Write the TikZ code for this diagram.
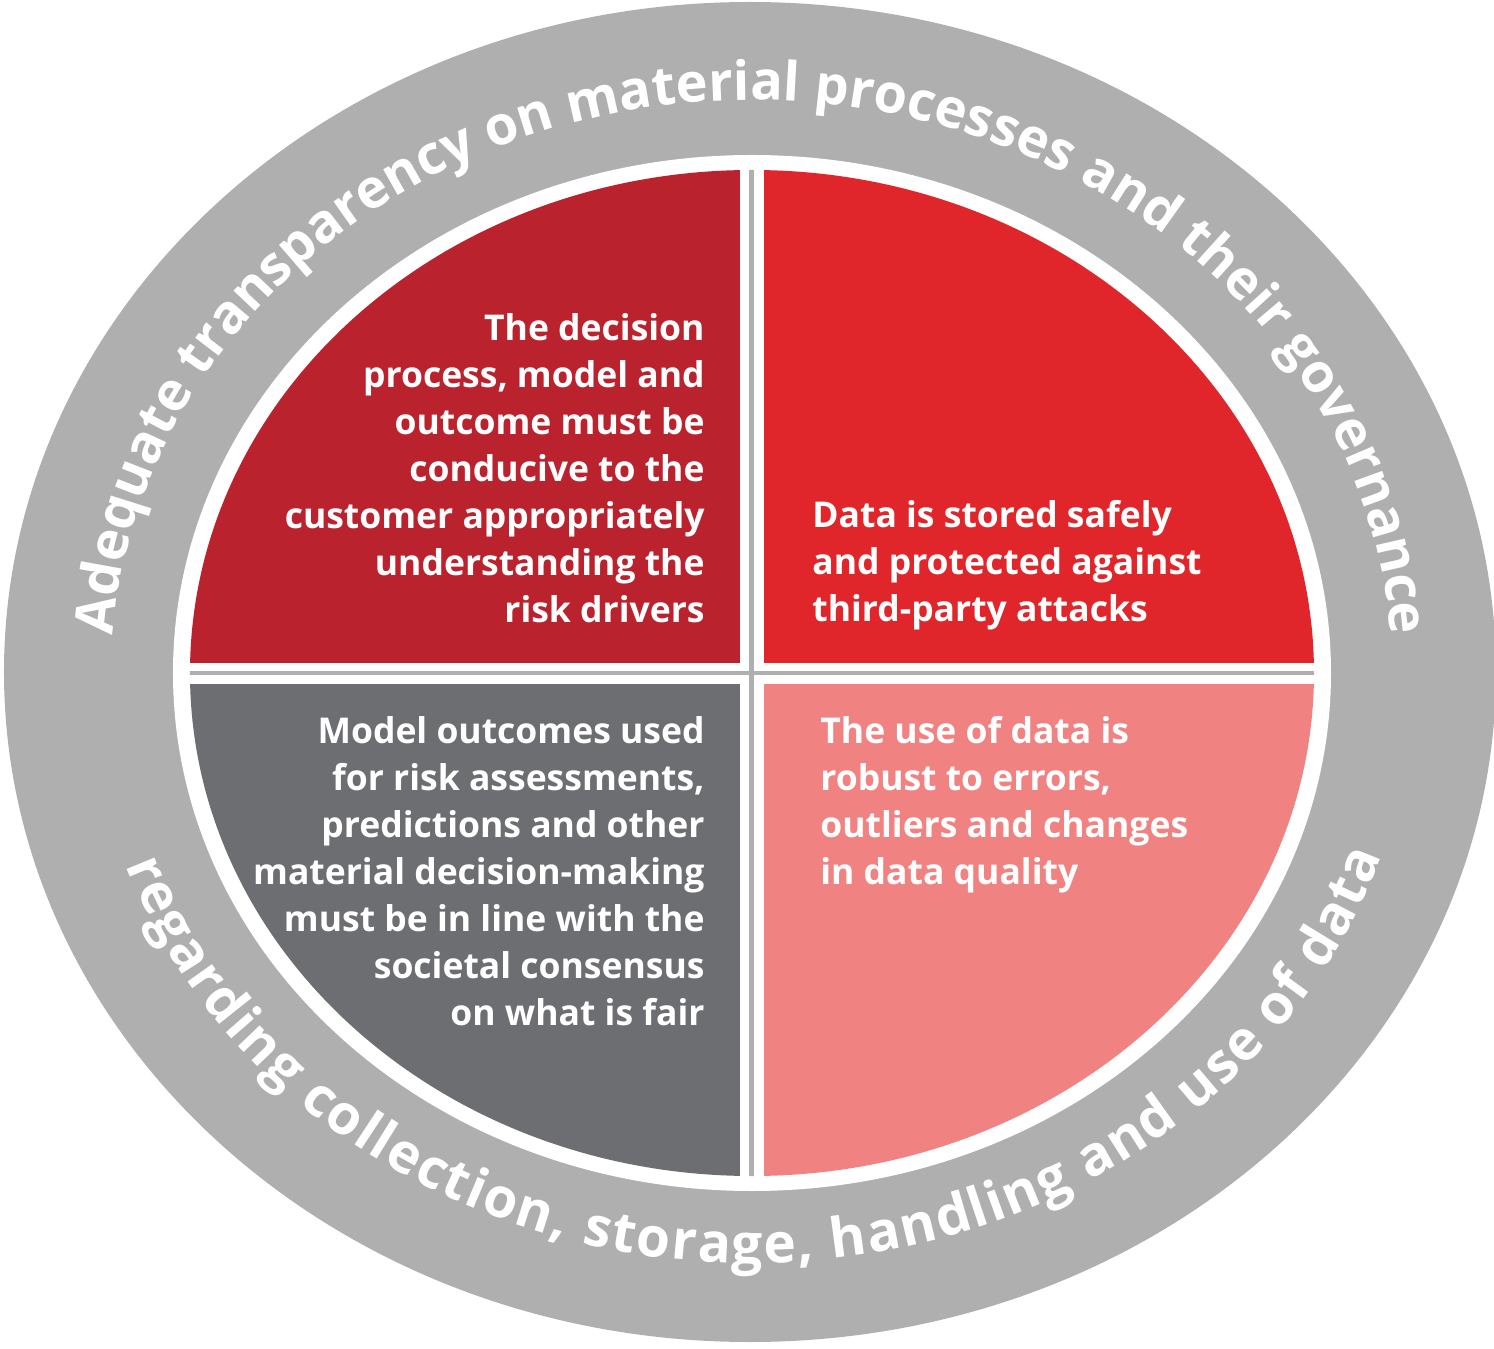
\documentclass[tikz,border=0pt]{standalone}
\usepackage{fontspec}
\setmainfont{Open Sans}
\usetikzlibrary{decorations.text}
\definecolor{ringgray}{RGB}{175,175,175}
\definecolor{darkred}{RGB}{186,35,46}
\definecolor{brightred}{RGB}{224,38,42}
\definecolor{slategray}{RGB}{109,110,113}
\definecolor{salmonpink}{RGB}{240,130,130}
\newcommand\ringfont{\bfseries\fontsize{27pt}{30pt}\selectfont}
\newcommand\lowringfont{\bfseries\fontsize{27.5pt}{30pt}\selectfont}

\begin{document}
\begin{tikzpicture}[x=0.5pt,y=0.5pt,
  quadtext/.style={text=white,font=\bfseries\fontsize{17.75pt}{23.5pt}\selectfont,inner sep=0pt},
  ringtext/.style={decorate,decoration={text along path,text color=white,text align=center,text={|\ringfont|#1}}},
  lowringtext/.style={decorate,decoration={text along path,text color=white,text align=fit to path,text={|\lowringfont|#1}}}]
  \useasboundingbox (-752,-676) rectangle (742,673);
  \fill[ringgray] (-2,1) ellipse [x radius=746,y radius=670];
  \fill[white] (0,0) ellipse [x radius=579,y radius=518];
  \begin{scope}
    \clip (0,0) ellipse [x radius=562,y radius=503];
    \fill[darkred] (-600,10) rectangle (-12,600);
    \fill[brightred] (12,10) rectangle (600,600);
    \fill[slategray] (-600,-11) rectangle (-12,-600);
    \fill[salmonpink] (12,-11) rectangle (600,-600);
    \fill[ringgray] (-3,-600) rectangle (2,600);
    \fill[ringgray] (-600,-2) rectangle (600,1.5);
  \end{scope}
  \node[quadtext,align=right,anchor=north east] (tl) at (-47,360)
    {The decision\\process, model and\\outcome must be\\conducive to the\\customer appropriately\\understanding the\\risk drivers};
  \node[quadtext,align=left,anchor=north west] (tr) at (60,173)
    {Data is stored safely\\and protected against\\third-party attacks};
  \node[quadtext,align=right,anchor=north east] (bl) at (-47,-43)
    {Model outcomes used\\for risk assessments,\\predictions and other\\material decision-making\\must be in line with the\\societal consensus\\on what is fair};
  \node[quadtext,align=left,anchor=north west] (br) at (68,-43)
    {The use of data is\\robust to errors,\\outliers and changes\\in data quality};
  \path[ringtext={Adequate transparency on material processes and their governance}]
    ({640*cos(195)},{573*sin(195)}) arc[start angle=195,end angle=-15,x radius=640,y radius=573];
  \path[lowringtext={regarding collection, storage, handling and use of data}]
    ({662*cos(199)},{590*sin(199)}) arc[start angle=199,end angle=342,x radius=662,y radius=590];
\end{tikzpicture}
\end{document}
